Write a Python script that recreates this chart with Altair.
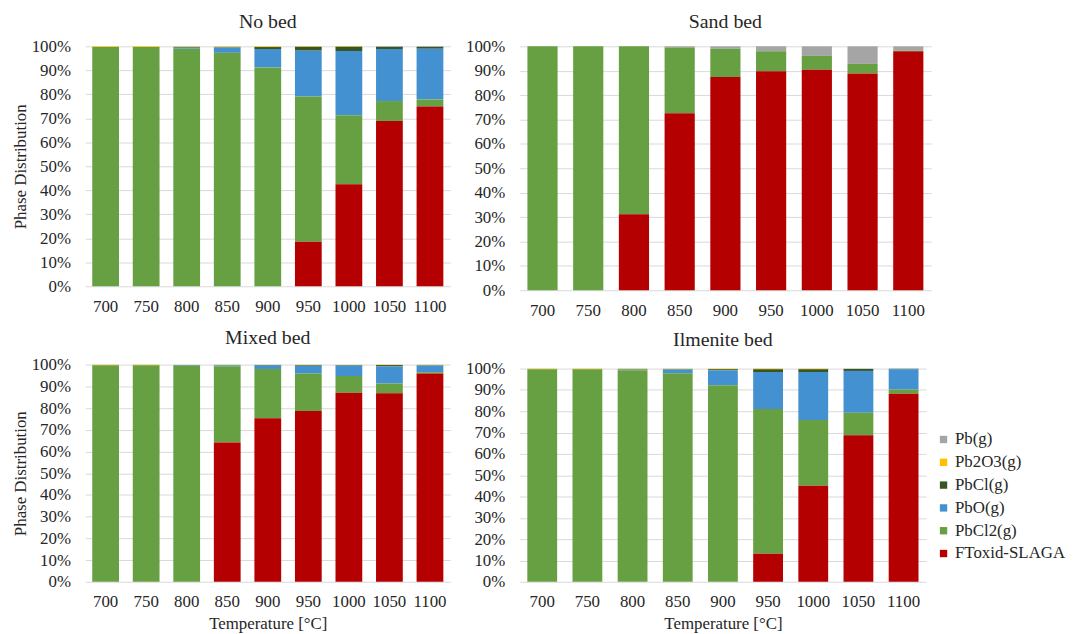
import altair as alt
import pandas as pd

temps = ["700", "750", "800", "850", "900", "950", "1000", "1050", "1100"]
series = ["Pb(g)", "Pb2O3(g)", "PbCl(g)", "PbO(g)", "PbCl2(g)", "FToxid-SLAGA"]
colors = ["#A5A5A5", "#FFC000", "#375623", "#4391D0", "#67A043", "#B40000"]

# No bed
nobed_slag = [0, 0, 0, 0, 0, 18.6, 42.5, 68.9, 74.9]
nobed_pbcl2 = [99.7, 99.7, 99.0, 97.3, 91.2, 60.5, 28.8, 8.3, 3.0]
nobed_pbo = [0, 0, 0.7, 2.3, 7.7, 19.1, 26.8, 21.7, 21.1]
nobed_pbcl = [0, 0, 0, 0.1, 0.8, 1.6, 1.7, 0.9, 0.8]
nobed_pb2o3 = [0.3, 0.3, 0.3, 0.3, 0.3, 0.2, 0.2, 0, 0]
nobed_pb = [0, 0, 0, 0, 0, 0, 0, 0.2, 0.2]

# Sand bed
sand_slag = [0, 0, 31.2, 72.6, 87.4, 89.8, 90.4, 88.9, 98.0]
sand_pbcl2 = [100, 100, 68.8, 26.9, 11.6, 8.2, 5.7, 3.9, 0.3]
sand_pbo = [0, 0, 0, 0, 0, 0, 0, 0, 0]
sand_pbcl = [0, 0, 0, 0, 0, 0, 0, 0, 0]
sand_pb2o3 = [0, 0, 0, 0, 0, 0, 0, 0, 0]
sand_pb = [0, 0, 0, 0.5, 1.0, 2.0, 3.9, 7.2, 1.7]

# Mixed bed
mixed_slag = [0, 0, 0, 64.1, 75.3, 78.7, 87.1, 86.8, 95.9]
mixed_pbcl2 = [99.7, 99.7, 99.4, 35.0, 22.7, 17.2, 7.7, 4.5, 0.6]
mixed_pbo = [0, 0, 0.3, 0.6, 1.8, 3.6, 4.8, 7.9, 3.2]
mixed_pbcl = [0, 0, 0, 0, 0, 0.3, 0.2, 0.6, 0]
mixed_pb2o3 = [0.3, 0.3, 0.3, 0.3, 0.2, 0.2, 0.2, 0.2, 0.3]
mixed_pb = [0, 0, 0, 0, 0, 0, 0, 0, 0]

# Ilmenite bed
ilm_slag = [0, 0, 0, 0, 0, 13.2, 45.1, 68.7, 88.2]
ilm_pbcl2 = [99.7, 99.7, 99.2, 97.8, 92.2, 67.8, 30.8, 10.6, 2.0]
ilm_pbo = [0, 0, 0.5, 1.9, 7.0, 17.4, 22.5, 19.6, 9.5]
ilm_pbcl = [0, 0, 0, 0, 0.5, 1.3, 1.3, 0.9, 0.2]
ilm_pb2o3 = [0.3, 0.3, 0.3, 0.3, 0.3, 0.3, 0.3, 0, 0]
ilm_pb = [0, 0, 0, 0, 0, 0, 0, 0.2, 0.1]

FONT = "Liberation Serif"
TXT = "#262626"


def make_df(pb, pb2o3, pbcl, pbo, pbcl2, slag):
    rows = []
    vals = [pb, pb2o3, pbcl, pbo, pbcl2, slag]
    for s_i, (name, arr) in enumerate(zip(series, vals)):
        for t, v in zip(temps, arr):
            rows.append({"T": t, "phase": name, "value": v, "ord": 5 - s_i})
    return pd.DataFrame(rows)


legend = alt.Legend(
    orient="none", legendX=857, legendY=388, title=None,
    labelFont=FONT, labelFontSize=17, labelColor=TXT,
    symbolType="square", symbolSize=55, symbolStrokeWidth=0,
    rowPadding=5, labelOffset=3,
)


def panel(df, title, w, h, ytitle=None, xtitle=None, toff=4):
    y_axis_kw = dict(
        format=".0%", values=[i / 10 for i in range(11)], grid=True,
        gridColor="#D9D9D9", domain=False, ticks=False, tickSize=0,
        labelFont=FONT, labelFontSize=17, labelColor=TXT, labelPadding=15,
    )
    if ytitle:
        y_axis_kw.update(title=ytitle, titleFont=FONT, titleFontSize=17,
                         titleFontWeight="normal", titleColor=TXT, titlePadding=2)
    else:
        y_axis_kw.update(title=None)
    x_axis_kw = dict(
        labelAngle=0, domain=False, ticks=False, tickSize=0, grid=False,
        labelFont=FONT, labelFontSize=17, labelColor=TXT, labelPadding=12,
    )
    if xtitle:
        x_axis_kw.update(title=xtitle, titleFont=FONT, titleFontSize=17,
                         titleFontWeight="normal", titleColor=TXT, titlePadding=6)
    else:
        x_axis_kw.update(title=None)
    return alt.Chart(df).mark_bar().encode(
        x=alt.X("T:N", sort=temps, axis=alt.Axis(**x_axis_kw),
                scale=alt.Scale(paddingInner=0.34, paddingOuter=0.17)),
        y=alt.Y("value:Q", stack="normalize", axis=alt.Axis(**y_axis_kw),
                scale=alt.Scale(domain=[0, 1])),
        color=alt.Color("phase:N", scale=alt.Scale(domain=series, range=colors),
                        legend=legend),
        order=alt.Order("ord:Q", sort="ascending"),
    ).properties(
        width=w, height=h,
        title=alt.Title(title, font=FONT, fontSize=20, fontWeight="normal",
                        color=TXT, offset=toff),
    )


nobed = panel(make_df(nobed_pb, nobed_pb2o3, nobed_pbcl, nobed_pbo, nobed_pbcl2, nobed_slag),
              "No bed", 368, 242, ytitle="Phase Distribution", toff=5)
sand = panel(make_df(sand_pb, sand_pb2o3, sand_pbcl, sand_pbo, sand_pbcl2, sand_slag),
             "Sand bed", 415, 246, toff=5)
mixed = panel(make_df(mixed_pb, mixed_pb2o3, mixed_pbcl, mixed_pbo, mixed_pbcl2, mixed_slag),
              "Mixed bed", 368, 219, ytitle="Phase Distribution", xtitle="Temperature [°C]",
              toff=8)
ilm = panel(make_df(ilm_pb, ilm_pb2o3, ilm_pbcl, ilm_pbo, ilm_pbcl2, ilm_slag),
            "Ilmenite bed", 410, 215, xtitle="Temperature [°C]", toff=10)

left = alt.vconcat(nobed, mixed, spacing=14)
right = alt.vconcat(sand, ilm, spacing=12)
chart = alt.hconcat(left, right, spacing=15).configure_view(stroke=None).properties(
    padding={"left": 3, "top": 2, "right": 0, "bottom": 0}
)

chart.save("out.html", embed_options={"renderer": "svg", "actions": False})
